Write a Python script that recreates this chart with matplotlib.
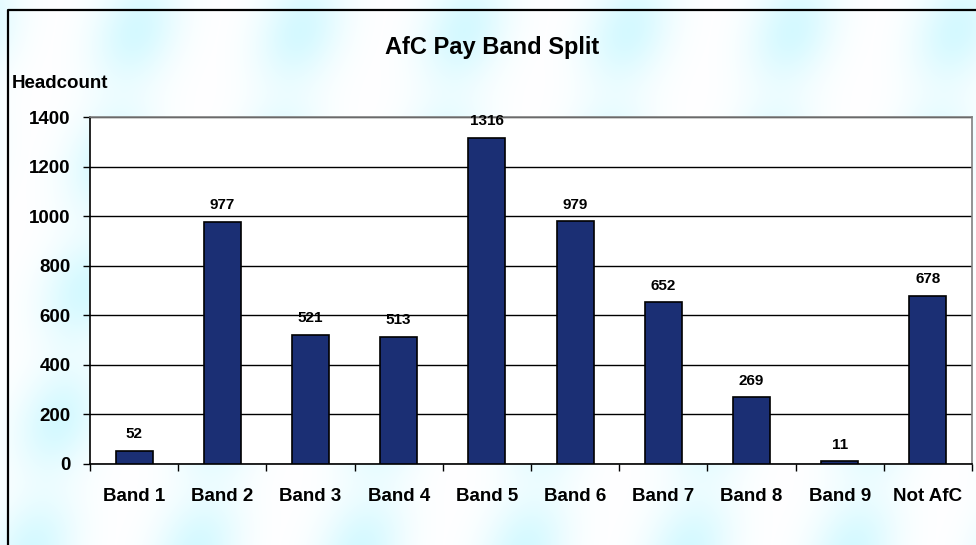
import numpy as np
import matplotlib.pyplot as plt
from matplotlib.lines import Line2D

bands = ['Band 1', 'Band 2', 'Band 3', 'Band 4', 'Band 5',
         'Band 6', 'Band 7', 'Band 8', 'Band 9', 'Not AfC']
headcount = [52, 977, 521, 513, 1316, 979, 652, 269, 11, 678]
yticks = [0, 200, 400, 600, 800, 1000, 1200, 1400]

plt.rcParams['font.family'] = ['Liberation Sans', 'DejaVu Sans']
plt.rcParams['font.weight'] = 'bold'

W, H = 976, 545
fig = plt.figure(figsize=(W / 100, H / 100), dpi=100)

# soft cyan blob texture behind the chart
bg = fig.add_axes([0, 0, 1, 1], zorder=-10)
yy, xx = np.mgrid[0:H, 0:W].astype(float)
px = 164.0
dx = ((xx - 60 + 0.2 * yy) % px) - px / 2
blob = np.exp(-(dx / 42.0) ** 2)
vert = 0.45 + 0.55 * np.cos(2 * np.pi * (yy - 30) / 260.0) ** 2
k = np.clip(blob * vert, 0, 1) * 0.75
img = np.ones((H, W, 3))
img[..., 0] = 1 - 0.22 * k
img[..., 1] = 1 - 0.03 * k
bg.imshow(img, extent=[0, 1, 0, 1], aspect='auto', origin='upper')
bg.set_axis_off()

# outer chart frame (runs off the right and bottom edges)
fig.add_artist(Line2D([8 / W, 8 / W, 1.01], [-0.01, 1 - 10 / H, 1 - 10 / H],
                      transform=fig.transFigure, color='black', lw=1.6))

ax = fig.add_axes([90 / W, 1 - 464 / H, (972 - 90) / W, (464 - 117) / H])
ax.set_facecolor('white')

x = np.arange(len(bands))
bars = ax.bar(x, headcount, width=0.42, color='#1b2f74',
              edgecolor='black', linewidth=1.2, zorder=3)
ax.bar_label(bars, padding=7, fontsize=11, fontweight='bold')

ax.set_xlim(-0.5, len(bands) - 0.5)
ax.set_ylim(0, 1400)
ax.set_yticks(yticks)
ax.set_yticklabels([str(v) for v in yticks], fontsize=13.5, fontweight='bold')
ax.yaxis.grid(True, color='black', lw=1)
ax.set_axisbelow(True)

ax.set_xticks(np.arange(len(bands) + 1) - 0.5)
ax.set_xticklabels([])
ax.set_xticks(x, minor=True)
ax.set_xticklabels(bands, minor=True, fontsize=13.5, fontweight='bold')
ax.tick_params(axis='x', which='minor', length=0, pad=17)
ax.tick_params(axis='x', which='major', length=5, width=1, direction='out')
ax.tick_params(axis='y', length=5, width=1, pad=9)

for s in ['top', 'right']:
    ax.spines[s].set_color('#808080')
    ax.spines[s].set_linewidth(1.2)
for s in ['left', 'bottom']:
    ax.spines[s].set_color('black')
    ax.spines[s].set_linewidth(1.2)

fig.text(492 / W, 1 - 47 / H, 'AfC Pay Band Split', ha='center', va='center',
         fontsize=17, fontweight='bold')
fig.text(12 / W, 1 - 83 / H, 'Headcount', ha='left', va='center',
         fontsize=13.5, fontweight='bold')

fig.savefig('out.png', dpi=100)
